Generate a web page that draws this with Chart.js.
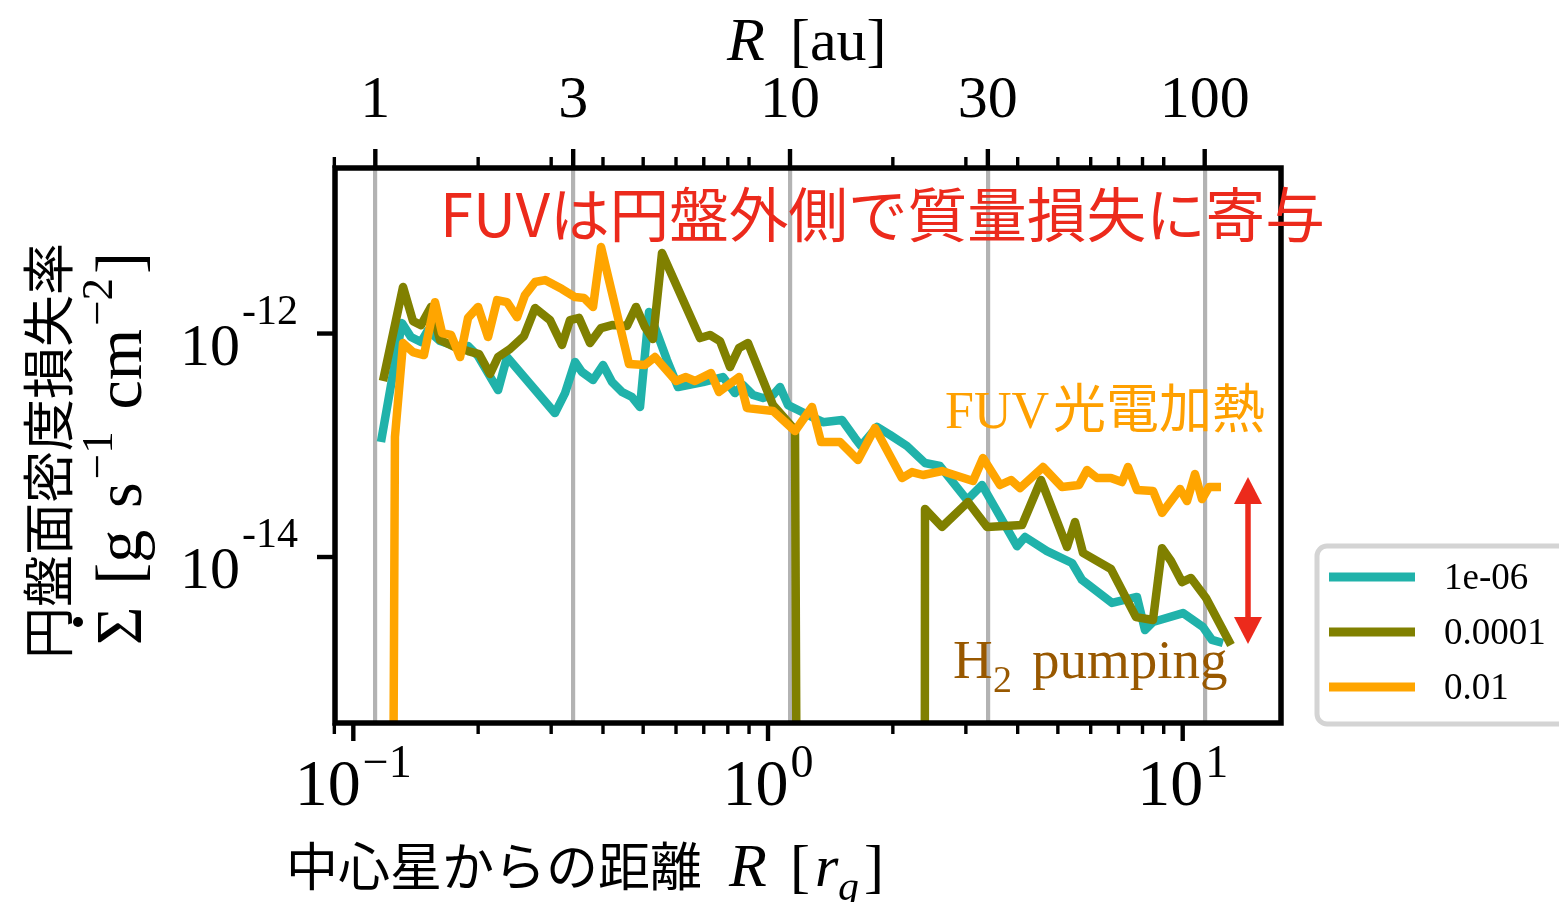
<!DOCTYPE html>
<html>
<head>
<meta charset="utf-8">
<script src="https://cdn.jsdelivr.net/npm/chart.js@4.4.1/dist/chart.umd.min.js"></script>
<style>
  html, body { margin: 0; padding: 0; background: #ffffff; }
  canvas { display: block; }
</style>
</head>
<body>
<canvas id="c" width="1559" height="902"></canvas>
<script>
// Radius in units of the gravitational radius r_g, and surface mass-loss rate [g s^-1 cm^-2].
// A rate of 1e-40 marks radii where the loss rate vanishes (drawn off the bottom of the log axis).
const r_1e06 = [0.1166, 0.1310, 0.1377, 0.1456, 0.1514, 0.1619, 0.1759, 0.1891, 0.1999, 0.2234,
  0.2348, 0.3064, 0.3240, 0.3425, 0.3561, 0.3785, 0.4001, 0.4206, 0.4446, 0.4700,
  0.4913, 0.5164, 0.5399, 0.5707, 0.6067, 0.6970, 0.7788, 0.8325, 0.8703, 0.9204,
  0.9726, 1.0282, 1.0689, 1.1175, 1.1814, 1.2627, 1.3572, 1.5083, 1.6207, 1.6757,
  1.8315, 1.9685, 2.1632, 2.3909, 2.5986, 3.0191, 3.2815, 3.9855, 4.1666, 4.7073,
  5.4086, 5.7175, 6.7522, 7.7577, 8.1104, 8.4790, 10.017, 11.194, 11.767, 12.507];
const rate_1e06 = [1.07e-13, 1.24e-12, 9.30e-13, 8.39e-13, 1.075e-12, 8.57e-13, 7.73e-13, 7.73e-13, 6.29e-13, 3.12e-13,
  6.16e-13, 1.94e-13, 2.93e-13, 5.56e-13, 4.52e-13, 3.84e-13, 5.23e-13, 3.68e-13, 3.00e-13, 2.70e-13,
  2.20e-13, 1.557e-12, 1.01e-12, 5.79e-13, 3.32e-13, 3.68e-13, 4.08e-13, 2.93e-13, 3.46e-13, 2.82e-13,
  2.65e-13, 2.82e-13, 3.32e-13, 2.29e-13, 2.07e-13, 1.83e-13, 1.61e-13, 1.68e-13, 1.16e-13, 9.85e-14,
  1.46e-13, 1.24e-13, 9.85e-14, 6.94e-14, 6.52e-14, 3.24e-14, 4.41e-14, 1.25e-14, 1.51e-14, 1.13e-14,
  8.84e-15, 6.23e-15, 3.88e-15, 4.39e-15, 2.22e-15, 2.62e-15, 3.15e-15, 2.36e-15, 1.81e-15, 1.70e-15];

const r_1e04 = [0.1179, 0.1318, 0.1393, 0.1456, 0.1540, 0.1619, 0.1759, 0.1891, 0.2010, 0.2136,
  0.2234, 0.2387, 0.2580, 0.2743, 0.2981, 0.3186, 0.3331, 0.3502, 0.3722, 0.3957,
  0.4206, 0.4571, 0.4805, 0.5051, 0.5280, 0.5551, 0.6855, 0.7246, 0.7659, 0.8097,
  0.8512, 0.8948, 1.0282, 1.1618, 1.2488, 2.3645, 2.3909, 2.6276, 3.0359, 3.3739,
  4.0976, 4.5531, 5.2607, 5.4995, 5.7493, 6.7148, 7.7148, 8.4790, 8.9155, 9.3712,
  9.9614, 10.472, 11.382, 13.074];
const rate_1e04 = [3.76e-13, 2.61e-12, 1.29e-12, 1.19e-12, 1.73e-12, 8.75e-13, 7.57e-13, 6.97e-13, 6.55e-13, 4.34e-13,
  6.16e-13, 7.27e-13, 9.50e-13, 1.69e-12, 1.32e-12, 7.89e-13, 1.32e-12, 1.38e-12, 8.22e-13, 1.12e-12,
  1.19e-12, 1.17e-12, 1.73e-12, 1.14e-12, 8.93e-13, 5.25e-12, 9.11e-13, 9.70e-13, 8.57e-13, 5.01e-13,
  7.42e-13, 8.22e-13, 2.29e-13, 1.37e-13, 1e-40, 1e-40, 2.69e-14, 1.86e-14, 3.11e-14, 1.86e-14,
  1.93e-14, 4.89e-14, 1.23e-14, 2.06e-14, 1.09e-14, 7.81e-15, 2.90e-15, 2.73e-15, 1.20e-14, 9.21e-15,
  5.97e-15, 6.49e-15, 4.30e-15, 1.63e-15];

const r_1e02 = [0.1166, 0.1260, 0.1318, 0.1393, 0.1480, 0.1574, 0.1637, 0.1721, 0.1809, 0.1891,
  0.1999, 0.2113, 0.2222, 0.2348, 0.2482, 0.2594, 0.2743, 0.2899, 0.3186, 0.3425,
  0.3600, 0.3785, 0.3957, 0.4622, 0.5051, 0.5339, 0.6000, 0.6341, 0.6667, 0.7286,
  0.7617, 0.8512, 0.8899, 1.0282, 1.1618, 1.2768, 1.3422, 1.4916, 1.6480, 1.8113,
  2.1039, 2.2247, 2.3645, 2.6276, 3.1215, 3.2998, 3.6268, 3.8548, 4.0524, 4.6039,
  5.1167, 5.6229, 5.8785, 6.2143, 6.7148, 7.1378, 7.3796, 7.7577, 8.4790, 8.9155,
  9.8520, 10.242, 10.707, 11.132, 11.573, 12.369];
const rate_1e02 = [1e-40, 1.19e-13, 8.22e-13, 6.83e-13, 6.42e-13, 1.91e-12, 1.01e-12, 9.70e-13, 6.16e-13, 1.38e-12,
  1.73e-12, 9.30e-13, 1.99e-12, 1.91e-12, 1.40e-12, 2.21e-12, 2.89e-12, 3.01e-12, 2.50e-12, 2.12e-12,
  2.08e-12, 1.73e-12, 5.94e-12, 5.34e-13, 5.23e-13, 6.16e-13, 3.76e-13, 4.08e-13, 3.76e-13, 4.43e-13,
  3.00e-13, 4.08e-13, 2.15e-13, 2.03e-13, 1.34e-13, 2.20e-13, 1.07e-13, 1.07e-13, 7.38e-14, 1.43e-13,
  5.09e-14, 5.76e-14, 5.42e-14, 5.88e-14, 4.79e-14, 7.69e-14, 4.41e-14, 4.89e-14, 4.14e-14, 6.39e-14,
  4.23e-14, 4.41e-14, 6.00e-14, 5.09e-14, 5.09e-14, 4.69e-14, 6.39e-14, 3.98e-14, 3.90e-14, 2.48e-14,
  4.06e-14, 3.17e-14, 5.53e-14, 3.30e-14, 4.23e-14, 4.23e-14];

const seriesLabels = ['1e-06', '0.0001', '0.01'];

// Axis ticks
const AU_PER_RG = 8.85;
const auTicks = [1, 3, 10, 30, 100];
const auTickLabels = ['1', '3', '10', '30', '100'];
const rgMajorTicks = [0.1, 1, 10];
const rgTickExponents = ['\u22121', '0', '1'];
const rateTicks = [1e-12, 1e-14];
const rateTickExponents = ['-12', '-14'];

const X_MIN = 0.09033, X_MAX = 17.26;
const Y_MIN = 3.27e-16, Y_MAX = 3.03e-11;

const TEAL = '#20b2aa', OLIVE = '#808000', ORANGE = '#ffa500';
const RED = '#ec2a1c', ORANGE_TXT = '#ffa000', BROWN = '#985800';
const SERIF = '"Liberation Serif", "Times New Roman", serif';
const CJK = '"Noto Sans CJK JP", "Noto Sans", sans-serif';
const LINE_W = 8.5;

const toPoints = (xs, ys) => xs.map((x, i) => ({ x: x, y: ys[i] }));

function setFont(ctx, size, family, style) {
  ctx.font = (style || 'normal') + ' ' + size + 'px ' + family;
}
function widthOf(ctx, text, size, family, style) {
  setFont(ctx, size, family, style);
  return ctx.measureText(text).width;
}
function put(ctx, text, x, y, size, family, opt) {
  opt = opt || {};
  setFont(ctx, size, family, opt.style);
  ctx.fillStyle = opt.color || '#000';
  ctx.textAlign = opt.align || 'left';
  ctx.textBaseline = opt.baseline || 'alphabetic';
  ctx.fillText(text, x, y);
  return ctx.measureText(text).width;
}
function line(ctx, x1, y1, x2, y2, w, color) {
  ctx.beginPath();
  ctx.moveTo(x1, y1); ctx.lineTo(x2, y2);
  ctx.lineWidth = w; ctx.strokeStyle = color; ctx.lineCap = 'butt';
  ctx.stroke();
}

const decor = {
  id: 'decor',
  beforeDraw(chart) {
    const c = chart.ctx;
    c.save(); c.fillStyle = '#ffffff'; c.fillRect(0, 0, chart.width, chart.height); c.restore();
  },
  afterDraw(chart) {
    const ctx = chart.ctx, a = chart.chartArea;
    const xs = chart.scales.x, ys = chart.scales.y, xt = chart.scales.xTop;
    ctx.save();

    // axes frame
    ctx.lineWidth = 5.5; ctx.strokeStyle = '#000';
    ctx.strokeRect(a.left, a.top, a.right - a.left, a.bottom - a.top);

    // minor ticks (2..9 x 10^n) on bottom and top
    for (let e = -2; e <= 1; e++) {
      for (let k = 2; k <= 9; k++) {
        const v = k * Math.pow(10, e);
        if (v < X_MIN * 0.99 || v > X_MAX) continue;
        const px = xs.getPixelForValue(v);
        line(ctx, px, a.bottom, px, a.bottom + 11, 3.4, '#000');
        line(ctx, px, a.top, px, a.top - 11, 3.4, '#000');
      }
    }
    // major ticks
    rgMajorTicks.forEach(v => {
      const px = xs.getPixelForValue(v);
      line(ctx, px, a.bottom, px, a.bottom + 18, 4.4, '#000');
    });
    auTicks.forEach(v => {
      const px = xt.getPixelForValue(v / AU_PER_RG);
      line(ctx, px, a.top, px, a.top - 19, 4.4, '#000');
    });
    rateTicks.forEach(v => {
      const py = ys.getPixelForValue(v);
      line(ctx, a.left, py, a.left - 18, py, 4.4, '#000');
    });

    // bottom tick labels 10^n
    rgMajorTicks.forEach((v, i) => {
      const px = xs.getPixelForValue(v);
      const w1 = widthOf(ctx, '10', 66, SERIF), w2 = widthOf(ctx, rgTickExponents[i], 46, SERIF);
      const x0 = px - (w1 + w2 + 2) / 2;
      put(ctx, '10', x0, 805, 66, SERIF);
      put(ctx, rgTickExponents[i], x0 + w1 + 2, 777, 46, SERIF);
    });
    // left tick labels 10^-n
    rateTicks.forEach((v, i) => {
      const py = ys.getPixelForValue(v);
      const wE = widthOf(ctx, rateTickExponents[i], 42, SERIF);
      put(ctx, rateTickExponents[i], 298, py - 10, 42, SERIF, { align: 'right' });
      put(ctx, '10', 298 - wE - 2, py + 31, 60, SERIF, { align: 'right' });
    });

    // top axis title: R [au]
    put(ctx, 'R', 727, 60, 62, SERIF, { style: 'italic' });
    put(ctx, '[au]', 790, 60, 60, SERIF);

    // bottom axis title
    put(ctx, '中心星からの距離', 286, 886, 52, CJK);
    put(ctx, 'R', 729, 886, 62, SERIF, { style: 'italic' });
    put(ctx, '[', 790, 886, 60, SERIF);
    put(ctx, 'r', 815, 886, 60, SERIF, { style: 'italic' });
    put(ctx, 'g', 838, 900, 42, SERIF, { style: 'italic' });
    put(ctx, ']', 864, 886, 60, SERIF);

    // left axis title, first line
    ctx.save();
    ctx.translate(68, 451); ctx.rotate(-Math.PI / 2);
    put(ctx, '円盤面密度損失率', 0, 0, 52, CJK, { align: 'center' });
    ctx.restore();

    // left axis title, second line: Σ̇ [g s^-1 cm^-2]
    ctx.save();
    ctx.translate(141, 645); ctx.rotate(-Math.PI / 2);
    const M = 66, S = 45, RAISE = 29;
    const runs = [
      { t: 'Σ', sz: M }, { gap: 1 }, { t: '[g', sz: M }, { gap: 1 }, { t: 's', sz: M },
      { t: '\u22121', sz: S, dy: -RAISE, pre: 3 }, { gap: 1 }, { t: 'cm', sz: M },
      { t: '\u22122', sz: S, dy: -RAISE, pre: 3 }, { t: ']', sz: M, pre: 4 }
    ];
    let natural = 0, gaps = 0;
    runs.forEach(r => { if (r.gap) gaps++; else natural += widthOf(ctx, r.t, r.sz, SERIF) + (r.pre || 0); });
    const gapW = Math.max(8, (393 - natural) / gaps);
    let lx = 0;
    runs.forEach(r => {
      if (r.gap) { lx += gapW; return; }
      lx += (r.pre || 0);
      const w = put(ctx, r.t, lx, r.dy || 0, r.sz, SERIF);
      if (r.t === 'Σ') {
        ctx.beginPath(); ctx.arc(lx + w * 0.6, -63, 5, 0, Math.PI * 2); ctx.fillStyle = '#000'; ctx.fill();
      }
      lx += w;
    });
    ctx.restore();

    // annotations
    const title = 'FUVは円盤外側で質量損失に寄与';
    const tsz = 56 * 885 / widthOf(ctx, title, 56, CJK);
    put(ctx, title, 440, 237, tsz, CJK, { color: RED });

    put(ctx, 'FUV', 945, 428, 52, SERIF, { color: ORANGE_TXT });
    put(ctx, '光電加熱', 1053, 428, 53, CJK, { color: ORANGE_TXT });

    put(ctx, 'H', 953, 678, 55, SERIF, { color: BROWN });
    put(ctx, '2', 993, 692, 38, SERIF, { color: BROWN });
    put(ctx, 'pumping', 1032, 678, 55, SERIF, { color: BROWN });

    // double-headed arrow
    const ax = 1248, ay1 = 477, ay2 = 644, hl = 27, hw = 14;
    line(ctx, ax, ay1 + hl - 2, ax, ay2 - hl + 2, 5.5, RED);
    ctx.fillStyle = RED;
    ctx.beginPath(); ctx.moveTo(ax, ay1); ctx.lineTo(ax - hw, ay1 + hl); ctx.lineTo(ax + hw, ay1 + hl); ctx.closePath(); ctx.fill();
    ctx.beginPath(); ctx.moveTo(ax, ay2); ctx.lineTo(ax - hw, ay2 - hl); ctx.lineTo(ax + hw, ay2 - hl); ctx.closePath(); ctx.fill();

    // legend
    ctx.beginPath();
    ctx.roundRect(1317, 546, 290, 178, 10);
    ctx.fillStyle = '#ffffff'; ctx.fill();
    ctx.lineWidth = 5; ctx.strokeStyle = '#d4d4d4'; ctx.stroke();
    chart.data.datasets.forEach((ds, i) => {
      const y = 577 + i * 55;
      line(ctx, 1329, y, 1415, y, 9, ds.borderColor);
      put(ctx, ds.label, 1444, y + 12, 37, SERIF);
    });

    ctx.restore();
  }
};

new Chart(document.getElementById('c'), {
  type: 'line',
  data: {
    datasets: [
      { label: seriesLabels[0], data: toPoints(r_1e06, rate_1e06), borderColor: TEAL, order: 3 },
      { label: seriesLabels[1], data: toPoints(r_1e04, rate_1e04), borderColor: OLIVE, order: 2 },
      { label: seriesLabels[2], data: toPoints(r_1e02, rate_1e02), borderColor: ORANGE, order: 1 }
    ].map(d => Object.assign(d, {
      xAxisID: 'x', yAxisID: 'y', clip: 0, fill: false,
      borderWidth: LINE_W, tension: 0, pointRadius: 0, pointHoverRadius: 0,
      borderJoinStyle: 'round', borderCapStyle: 'butt'
    }))
  },
  options: {
    responsive: false,
    animation: false,
    devicePixelRatio: 1,
    layout: { padding: { left: 0, right: 278, top: 0, bottom: 0 } },
    datasets: { line: { borderWidth: LINE_W } },
    elements: { line: { borderWidth: LINE_W } },
    plugins: { legend: { display: false }, tooltip: { enabled: false } },
    scales: {
      x: {
        type: 'logarithmic', position: 'bottom', min: X_MIN, max: X_MAX, bounds: 'data',
        afterFit: s => { s.height = 179; },
        afterBuildTicks: s => { s.ticks = rgMajorTicks.map(v => ({ value: v })); },
        ticks: { display: false },
        grid: { display: false },
        border: { display: false }
      },
      xTop: {
        type: 'logarithmic', position: 'top', min: X_MIN, max: X_MAX, bounds: 'data',
        afterFit: s => { s.height = 168; },
        afterBuildTicks: s => { s.ticks = auTicks.map(v => ({ value: v / AU_PER_RG })); },
        ticks: {
          callback: (v, i) => auTickLabels[i],
          font: { family: SERIF, size: 60, lineHeight: 1.2 },
          color: '#000', padding: 31, autoSkip: false, maxRotation: 0, minRotation: 0
        },
        grid: { color: '#b3b3b3', lineWidth: 4.2, drawTicks: false },
        border: { display: false }
      },
      y: {
        type: 'logarithmic', position: 'left', min: Y_MIN, max: Y_MAX, bounds: 'data',
        afterFit: s => { s.width = 335; },
        afterBuildTicks: s => { s.ticks = rateTicks.map(v => ({ value: v })); },
        ticks: { display: false },
        grid: { display: false },
        border: { display: false }
      }
    }
  },
  plugins: [decor]
});
</script>
</body>
</html>
